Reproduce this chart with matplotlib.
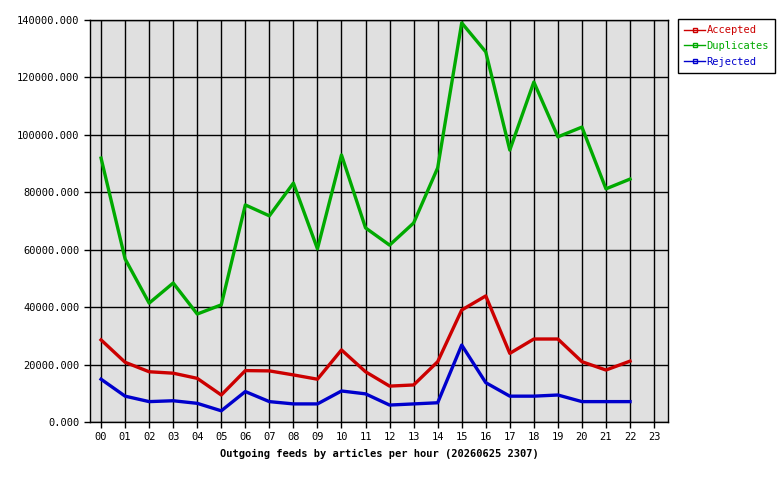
import matplotlib
matplotlib.use("Agg")
from matplotlib import pyplot as plt
from matplotlib.ticker import FormatStrFormatter

hours = list(range(24))
hour_labels = ["%02d" % h for h in hours]

accepted = [28600, 20800, 17500, 17000, 15200, 9400, 17900, 17800, 16400, 14900,
            25100, 17500, 12500, 12900, 21000, 39000, 43900, 23900, 28900, 28900,
            21000, 18100, 21200]
duplicates = [91900, 56800, 41400, 48400, 37600, 40800, 75600, 71800, 83200, 60300,
              93000, 67600, 61600, 69300, 88500, 139000, 128900, 94700, 118400, 99300,
              102700, 81200, 84600]
rejected = [14900, 9000, 7100, 7400, 6500, 3900, 10600, 7100, 6300, 6300,
            10800, 9800, 5900, 6300, 6700, 26800, 13700, 9000, 9000, 9400,
            7100, 7100, 7100]

plt.rcParams["font.family"] = ["DejaVu Sans Mono"]
plt.rcParams["font.size"] = 7.5

fig = plt.figure(figsize=(7.8, 4.8), dpi=100)
ax = fig.add_axes([90/780, 58/480, 578/780, 402/480])
ax.set_facecolor("#e0e0e0")

x = hours[:len(accepted)]
ax.plot(x, accepted, color="#cc0000", lw=2.4, label="Accepted", zorder=3)
ax.plot(x, duplicates, color="#00aa00", lw=2.4, label="Duplicates", zorder=3)
ax.plot(x, rejected, color="#0000cc", lw=2.4, label="Rejected", zorder=3)

ax.set_xlim(-0.46, 23.58)
ax.set_ylim(0, 140000)
ax.set_xticks(hours)
ax.set_xticklabels(hour_labels)
ax.set_yticks(range(0, 140001, 20000))
ax.yaxis.set_major_formatter(FormatStrFormatter("%.3f"))
ax.grid(True, color="black", lw=1)
ax.set_axisbelow(True)
ax.tick_params(direction="out", length=4, width=1, color="black")
ax.tick_params(axis="x", pad=3)
for s in ax.spines.values():
    s.set_color("black")
    s.set_linewidth(1)

ax.set_xlabel("Outgoing feeds by articles per hour (20260625 2307)", fontweight="bold", labelpad=5)

handles = []
for c, lab in [("#cc0000", "Accepted"), ("#00aa00", "Duplicates"), ("#0000cc", "Rejected")]:
    h, = ax.plot([], [], color=c, lw=1, marker="s", markersize=3, markerfacecolor="none",
                 markeredgecolor=c, label=lab)
    handles.append(h)
leg = fig.legend(handles=handles, loc="upper left", bbox_to_anchor=(678/780, 1 - 19/480),
                 frameon=True, fancybox=False, edgecolor="black", framealpha=1,
                 handlelength=2.0, handletextpad=0.15, borderpad=0.6, labelspacing=0.55,
                 borderaxespad=0)
leg.get_frame().set_linewidth(1)
for t, h in zip(leg.get_texts(), handles):
    t.set_color(h.get_color())

fig.savefig("out.png", dpi=100)
